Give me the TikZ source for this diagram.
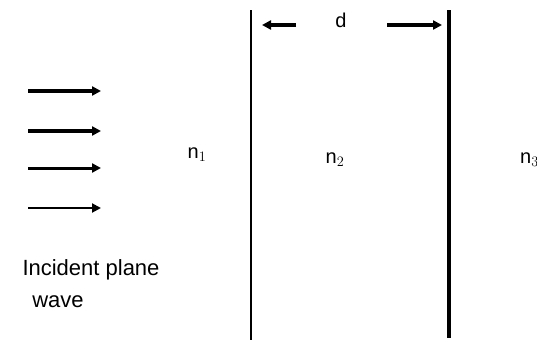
\documentclass[tikz,border=0pt]{standalone}
\usepackage{fontspec}
\setmainfont{Liberation Sans}
\usetikzlibrary{arrows.meta}
\begin{document}
\begin{tikzpicture}[x=1pt,y=-1pt,
  wavearrow/.style={-{Triangle[length=9pt,width=9pt]}},
  lbl/.style={font=\fontsize{20}{22}\selectfont,inner sep=0pt}]
\useasboundingbox (0,0) rectangle (537,348);
% interfaces
\coordinate (l1t) at (251,10); \coordinate (l1b) at (251,340);
\coordinate (l2t) at (449,10); \coordinate (l2b) at (449,338);
\draw[line width=2pt] (l1t) -- (l1b);
\draw[line width=3.6pt] (l2t) -- (l2b);
% incident arrows
\coordinate (a1s) at (28,91);  \coordinate (a1e) at (101,91);
\coordinate (a2s) at (28,131); \coordinate (a2e) at (101,131);
\coordinate (a3s) at (28,168); \coordinate (a3e) at (101,168);
\coordinate (a4s) at (28,208); \coordinate (a4e) at (101,208);
\draw[wavearrow,line width=4.5pt] (a1s) -- (a1e);
\draw[wavearrow,line width=4pt] (a2s) -- (a2e);
\draw[wavearrow,line width=3pt] (a3s) -- (a3e);
\draw[wavearrow,line width=2pt] (a4s) -- (a4e);
% d dimension
\node[lbl] (d) at (341,20) {d};
\coordinate (dl1) at (296,25); \coordinate (dl2) at (262,25);
\coordinate (dr1) at (387,25); \coordinate (dr2) at (442,25);
\draw[wavearrow,line width=4pt] (dl1) -- (dl2);
\draw[wavearrow,line width=4pt] (dr1) -- (dr2);
% labels
\node[lbl] (n1) at (197,155) {n$_1$};
\node[lbl] (n2) at (335,160) {n$_2$};
\node[lbl,anchor=west] (n3) at (520,160) {n$_3$};
\node[lbl,font=\fontsize{22}{24}\selectfont] (inc) at (91,270) {Incident plane};
\node[lbl,font=\fontsize{22}{24}\selectfont] (wave) at (58,302) {wave};
\end{tikzpicture}
\end{document}
